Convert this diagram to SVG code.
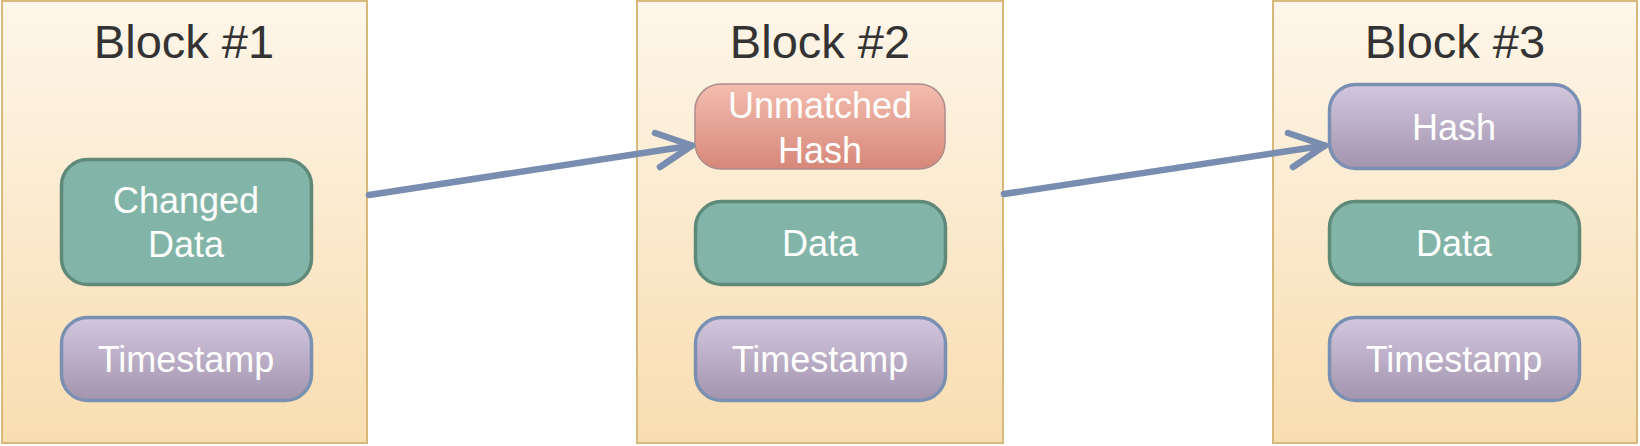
<svg xmlns="http://www.w3.org/2000/svg" width="1640" height="446" viewBox="0 0 1640 446">
<defs>
<linearGradient id="gBlock" x1="0" y1="0" x2="0" y2="1"><stop offset="0" stop-color="#fef6ea"/><stop offset="1" stop-color="#f8ddb0"/></linearGradient>
<linearGradient id="gPurple" x1="0" y1="0" x2="0" y2="1"><stop offset="0" stop-color="#d2c7df"/><stop offset="1" stop-color="#a394ad"/></linearGradient>
<linearGradient id="gRed" x1="0" y1="0" x2="0" y2="1"><stop offset="0" stop-color="#f3bdae"/><stop offset="1" stop-color="#d6887a"/></linearGradient>
<style>
.block{fill:url(#gBlock);stroke:#d6b97b;stroke-width:2}
.title{font-family:"Liberation Sans",Arial,sans-serif;font-size:47px;fill:#333333;text-anchor:middle}
.lbl{font-family:"Liberation Sans",Arial,sans-serif;font-size:36px;fill:#ffffff;text-anchor:middle}
.green{fill:#82b5a7;stroke:#5f8a7a;stroke-width:3.5}
.purple{fill:url(#gPurple);stroke:#7a90b3;stroke-width:3.5}
.red{fill:url(#gRed);stroke:#b08b8a;stroke-width:1.5}
.conn{fill:none;stroke:#788db0;stroke-width:6.5;stroke-linecap:round;stroke-linejoin:round}
</style>
</defs>
<g id="block1">
<rect class="block" x="2" y="1" width="365" height="442"/>
<text class="title" x="184" y="58">Block #1</text>
</g>
<g id="block2">
<rect class="block" x="637" y="1" width="366" height="442"/>
<text class="title" x="820" y="58">Block #2</text>
</g>
<g id="block3">
<rect class="block" x="1273" y="1" width="364" height="442"/>
<text class="title" x="1455" y="58">Block #3</text>
</g>
<g id="b1-data">
<rect class="green" x="61.5" y="159.5" width="250" height="125" rx="26"/>
<text class="lbl" x="186" y="213">Changed</text>
<text class="lbl" x="186" y="257">Data</text>
</g>
<g id="b1-ts">
<rect class="purple" x="61.5" y="317.5" width="250" height="83" rx="26"/>
<text class="lbl" x="186" y="372">Timestamp</text>
</g>
<g id="b2-hash">
<rect class="red" x="695" y="84" width="250" height="85" rx="26"/>
<text class="lbl" x="820" y="118">Unmatched</text>
<text class="lbl" x="820" y="163">Hash</text>
</g>
<g id="b2-data">
<rect class="green" x="695.5" y="201.5" width="250" height="83" rx="26"/>
<text class="lbl" x="820" y="256">Data</text>
</g>
<g id="b2-ts">
<rect class="purple" x="695.5" y="317.5" width="250" height="83" rx="26"/>
<text class="lbl" x="820" y="372">Timestamp</text>
</g>
<g id="b3-hash">
<rect class="purple" x="1329.5" y="84.5" width="250" height="84" rx="26"/>
<text class="lbl" x="1454" y="140">Hash</text>
</g>
<g id="b3-data">
<rect class="green" x="1329.5" y="201.5" width="250" height="83" rx="26"/>
<text class="lbl" x="1454" y="256">Data</text>
</g>
<g id="b3-ts">
<rect class="purple" x="1329.5" y="317.5" width="250" height="83" rx="26"/>
<text class="lbl" x="1454" y="372">Timestamp</text>
</g>
<g id="connectors">
<path class="conn" d="M369 195 L692 145.5"/>
<path class="conn" d="M655 133 L692 145.5 L660 167"/>
<path class="conn" d="M1004 194 L1325 145.5"/>
<path class="conn" d="M1288 133 L1325 145.5 L1293 167"/>
</g>
</svg>
